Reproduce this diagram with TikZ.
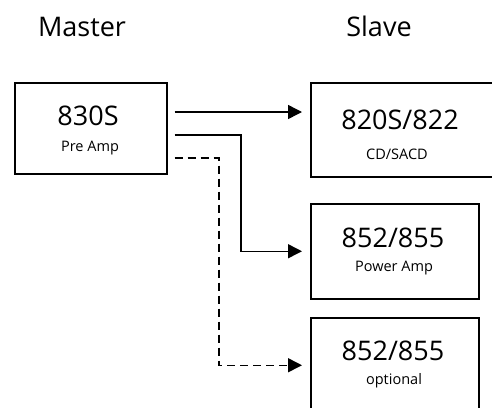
\documentclass[tikz,border=0pt]{standalone}
\usepackage{fontspec}
\setmainfont{Open Sans}
\usetikzlibrary{arrows.meta}
\begin{document}
\begin{tikzpicture}[x=1pt,y=-1pt,
  box/.style={draw,line width=1.5pt,rectangle,anchor=north west,inner sep=0pt},
  big/.style={anchor=base,inner sep=0pt,font=\fontsize{27}{30}\selectfont},
  small/.style={anchor=base,inner sep=0pt,font=\fontsize{14.5}{16}\selectfont},
  conn/.style={line width=1.5pt,-{Triangle[length=14pt,width=14pt]}},
  dashconn/.style={conn,dash pattern=on 8pt off 5pt}]
\useasboundingbox (0,0) rectangle (492,407);
\clip (0,0) rectangle (492,407);
\node[big] (tm) at (82,36) {Master};
\node[big] (ts) at (379,36) {Slave};
\node[box,minimum width=152pt,minimum height=91pt] (m) at (14,82) {};
\node[box,minimum width=200pt,minimum height=94pt] (s1) at (310,82) {};
\node[box,minimum width=168pt,minimum height=95pt] (s2) at (310,203) {};
\node[box,minimum width=168pt,minimum height=95pt] (s3) at (310,317) {};
\node[big] (m1) at (88,125) {830S};
\node[small] (m2) at (90,151) {Pre Amp};
\node[big] (a1) at (400,129) {820S/822};
\node[small] (a2) at (397,159) {CD/SACD};
\node[big] (b1) at (393,247) {852/855};
\node[small] (b2) at (394,271) {Power Amp};
\node[big] (c1) at (393,360) {852/855};
\node[small] (c2) at (394,384) {optional};
\draw[conn] ([shift={(7,30)}]m.north east) -- ([shift={(-8,30)}]s1.north west);
\draw[conn] ([shift={(7,53)}]m.north east) -| ([xshift=-69pt]s2.west) -- ([xshift=-8pt]s2.west);
\draw[dashconn] ([shift={(7,76)}]m.north east) -| ([xshift=-91pt]s3.west) -- ([xshift=-8pt]s3.west);
\end{tikzpicture}
\end{document}
